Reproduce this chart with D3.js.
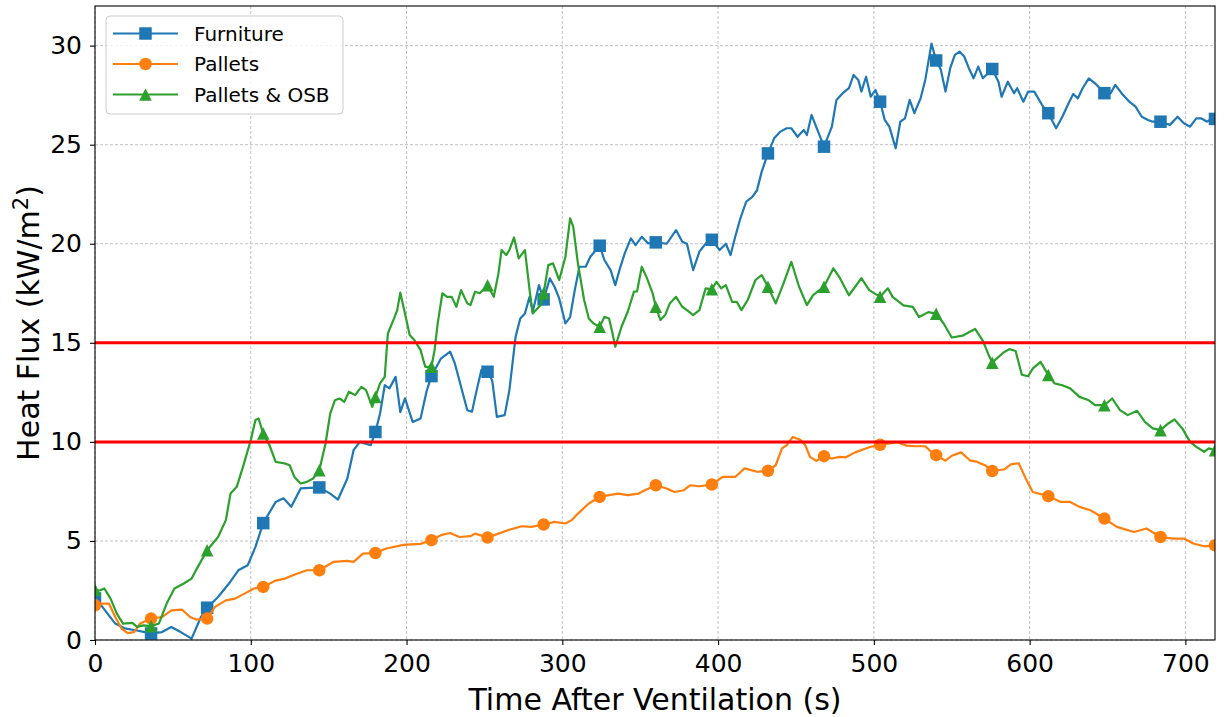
<!DOCTYPE html>
<html>
<head>
<meta charset="utf-8">
<script src="https://cdn.jsdelivr.net/npm/d3@7"></script>
<style>
  body { margin: 0; background: #fff; }
  svg { font-family: "DejaVu Sans", sans-serif; }
</style>
</head>
<body>
<svg id="chart"></svg>
<script>
// [time (s), heat flux (kW/m2)]
const furniture = [
  [0,2.1],[4,1.75],[13,0.83],[19,0.59],[26,0.49],[32,0.4],[36,0.33],[43,0.4],[49,0.66],[55,0.4],
  [62,0.07],[68,1.16],[72,1.63],[79,2.17],[86,2.85],[92,3.52],[98,3.77],[103,4.7],[108,5.9],[116,6.97],
  [121,7.15],[126,6.72],[132,7.65],[144,7.7],[151,7.39],[156,7.09],[162,8.15],[166,9.58],[170,10.0],[177,9.83],
  [180,10.5],[183,11.43],[186,12.86],[189,12.7],[193,13.28],[196,11.5],[199,12.2],[204,11.0],[209,11.18],[213,12.6],
  [216,13.32],[222,14.2],[228,14.55],[231,13.96],[235,12.78],[239,11.6],[242,11.52],[245,12.6],[248,13.62],[252,13.54],
  [255,13.1],[258,11.26],[263,11.35],[266,12.6],[270,15.3],[273,16.23],[276,16.48],[279,17.32],[281,16.57],[285,17.91],
  [288,17.19],[292,18.25],[295,17.83],[298,17.24],[302,15.98],[305,16.3],[308,17.66],[311,18.84],[315,18.84],[318,19.34],
  [324,19.9],[327,19.18],[331,18.67],[334,17.91],[337,18.76],[340,19.5],[344,20.27],[347,19.93],[351,20.35],[355,20.02],
  [360,20.07],[367,20.0],[373,20.69],[377,20.1],[380,20.0],[384,18.67],[388,19.6],[392,20.0],[396,20.2],[401,19.68],
  [405,20.0],[408,19.43],[411,20.35],[414,21.2],[418,22.12],[422,22.37],[425,22.7],[428,23.64],[432,24.56],[436,25.32],
  [440,25.66],[444,25.83],[447,25.83],[451,25.4],[455,25.74],[457,25.49],[460,26.5],[463,25.9],[468,24.9],[473,25.9],
  [476,27.26],[480,27.6],[484,27.85],[487,28.52],[490,28.27],[492,27.68],[495,28.43],[498,27.42],[501,27.76],[504,27.17],
  [507,26.25],[510,25.9],[514,24.82],[517,26.16],[520,26.33],[523,27.26],[526,26.59],[530,27.34],[533,28.27],[537,30.1],
  [540,29.25],[543,28.78],[546,27.68],[549,28.86],[552,29.53],[555,29.7],[558,29.45],[561,28.86],[564,28.35],[567,28.94],
  [570,28.35],[576,28.82],[580,28.18],[582,27.42],[586,28.18],[590,27.6],[592,27.85],[596,27.17],[599,27.68],[603,27.68],
  [608,27.0],[612,26.59],[617,25.83],[621,26.41],[625,27.09],[628,27.56],[631,27.34],[634,27.85],[638,28.35],[642,28.1],
  [648,27.6],[652,27.6],[655,28.02],[659,27.6],[664,27.17],[668,26.92],[672,26.41],[676,26.25],[679,26.16],[684,26.16],
  [690,26.0],[695,26.41],[699,26.08],[703,25.91],[707,26.33],[710,26.33],[714,26.16],[717,26.33],[719,26.3]
];

const pallets = [
  [0,1.75],[4,1.84],[9,1.84],[13,1.16],[17,0.58],[21,0.35],[25,0.4],[29,0.83],[36,1.08],[43,1.16],
  [49,1.5],[56,1.53],[61,1.16],[65,1.03],[72,1.08],[77,1.67],[84,2.0],[90,2.09],[96,2.34],[102,2.6],
  [108,2.68],[116,3.0],[122,3.1],[127,3.27],[136,3.52],[144,3.52],[153,3.94],[162,3.99],[166,3.94],[172,4.36],
  [180,4.39],[187,4.62],[198,4.8],[209,4.85],[216,5.04],[222,5.29],[228,5.4],[234,5.2],[241,5.24],[244,5.37],
  [252,5.17],[259,5.37],[265,5.54],[274,5.74],[280,5.71],[288,5.83],[295,5.96],[302,5.88],[306,6.05],[310,6.38],
  [317,6.89],[324,7.22],[330,7.31],[336,7.39],[342,7.31],[349,7.39],[353,7.56],[360,7.81],[367,7.65],[372,7.47],
  [378,7.56],[382,7.81],[388,7.76],[396,7.85],[403,8.23],[411,8.23],[417,8.66],[425,8.49],[432,8.54],[437,8.82],
  [441,9.67],[444,9.83],[448,10.25],[453,10.09],[456,9.83],[459,9.24],[463,9.04],[468,9.28],[473,9.16],[478,9.24],
  [482,9.22],[488,9.47],[497,9.73],[504,9.85],[515,9.98],[521,9.81],[527,9.78],[533,9.78],[536,9.56],[540,9.33],
  [546,9.05],[550,9.3],[556,9.47],[562,9.05],[566,9.0],[572,8.79],[576,8.53],[584,8.62],[588,8.87],[593,8.92],
  [598,8.07],[602,7.47],[612,7.26],[620,6.97],[626,6.97],[632,6.72],[639,6.55],[648,6.13],[656,5.71],[667,5.45],
  [675,5.63],[684,5.2],[692,5.12],[699,5.12],[705,4.87],[712,4.73],[719,4.78]
];

const palletsOsb = [
  [0,2.54],[3,2.5],[6,2.6],[10,2.09],[14,1.33],[18,0.83],[24,0.86],[27,0.66],[31,0.74],[36,0.7],
  [41,0.83],[46,1.84],[51,2.6],[57,2.85],[62,3.1],[66,3.69],[72,4.53],[79,5.2],[84,6.05],[87,7.39],
  [91,7.73],[95,8.74],[100,10.09],[103,11.1],[105,11.18],[108,10.42],[112,9.83],[116,8.99],[122,8.91],[125,8.82],
  [128,8.23],[132,7.9],[136,7.98],[140,8.15],[144,8.57],[148,9.92],[151,11.43],[154,12.1],[157,12.19],[160,12.02],
  [163,12.53],[167,12.36],[171,12.78],[174,12.61],[178,11.77],[180,12.27],[183,12.95],[186,13.28],[188,15.47],[192,16.23],
  [194,16.65],[196,17.53],[199,16.48],[202,15.39],[205,15.14],[209,14.63],[212,13.79],[216,13.79],[218,14.63],[220,15.98],
  [223,17.5],[226,17.32],[229,17.32],[232,16.82],[235,17.66],[239,16.99],[241,16.9],[244,17.58],[247,17.5],[252,17.91],
  [256,17.32],[259,18.5],[261,19.68],[264,19.43],[266,19.68],[269,20.32],[272,19.26],[276,19.68],[279,17.66],[281,16.48],
  [286,16.9],[288,17.5],[291,18.92],[294,19.01],[298,18.17],[302,19.34],[305,21.28],[307,20.86],[310,19.01],[314,17.16],
  [317,16.23],[320,15.98],[324,15.81],[327,16.31],[330,16.23],[332,15.56],[334,14.8],[338,15.81],[342,16.57],[346,17.58],
  [348,17.6],[351,18.84],[354,18.33],[358,17.5],[360,16.82],[363,16.15],[366,16.4],[369,16.99],[373,17.32],[377,16.82],
  [380,16.65],[384,16.4],[388,16.65],[392,17.75],[396,17.7],[399,18.08],[402,17.75],[405,17.91],[409,17.07],[412,17.07],
  [415,16.65],[419,17.16],[424,18.17],[428,18.42],[432,17.83],[437,16.99],[442,18.0],[447,19.09],[452,17.83],[457,16.9],
  [461,17.41],[468,17.83],[474,18.76],[478,18.3],[484,17.4],[488,17.83],[492,18.26],[497,17.66],[504,17.32],[509,17.75],
  [512,17.32],[519,16.89],[525,16.81],[529,16.3],[535,16.55],[540,16.47],[545,15.95],[550,15.27],[557,15.36],[561,15.53],
  [565,15.7],[570,15.1],[574,14.33],[576,14.0],[583,14.5],[587,14.68],[591,14.59],[595,13.39],[599,13.31],[602,13.7],
  [607,14.04],[612,13.37],[616,12.95],[621,12.86],[626,12.7],[632,12.27],[638,12.1],[642,11.85],[648,11.85],[653,12.19],
  [658,11.6],[663,11.35],[669,11.57],[674,11.01],[679,10.68],[684,10.59],[689,10.93],[693,11.13],[698,10.68],[703,10.0],
  [707,9.75],[712,9.5],[715,9.67],[719,9.58]
];

const seriesNames = ["Furniture", "Pallets", "Pallets & OSB"];
const thresholds = [10, 15];
const xTicks = [0, 100, 200, 300, 400, 500, 600, 700];
const yTicks = [0, 5, 10, 15, 20, 25, 30];
const markEvery = 36;

const width = 1225,
      height = 717,
      margin = {top: 6, right: 10, bottom: 77, left: 95},
      innerW = width - margin.left - margin.right,
      innerH = height - margin.top - margin.bottom;

const svg = d3.select("#chart")
    .attr("width", width)
    .attr("height", height);

const x = d3.scaleLinear().domain([0, 719]).range([0, innerW]);
const y = d3.scaleLinear().domain([0, 32]).range([innerH, 0]);

const colors = ["#1f77b4", "#ff7f0e", "#2ca02c"];
const shapes = ["square", "circle", "triangle"];
const series = [furniture, pallets, palletsOsb].map((data, i) => ({
    name: seriesNames[i], data: data, color: colors[i], shape: shapes[i]
}));

const g = svg.append("g")
    .attr("transform", `translate(${[margin.left, margin.top]})`);

svg.append("defs").append("clipPath")
    .attr("id", "plotClip")
  .append("rect")
    .attr("width", innerW)
    .attr("height", innerH);

// grid
g.append("g").selectAll("line")
    .data(xTicks)
    .enter().append("line")
      .attr("x1", (d) => x(d)).attr("x2", (d) => x(d))
      .attr("y1", 0).attr("y2", innerH)
      .attr("stroke", "#b0b0b0")
      .attr("stroke-width", 0.8)
      .attr("stroke-dasharray", "3,2");
g.append("g").selectAll("line")
    .data(yTicks)
    .enter().append("line")
      .attr("x1", 0).attr("x2", innerW)
      .attr("y1", (d) => y(d)).attr("y2", (d) => y(d))
      .attr("stroke", "#b0b0b0")
      .attr("stroke-width", 0.8)
      .attr("stroke-dasharray", "3,2");

const plot = g.append("g").attr("clip-path", "url(#plotClip)");

const line = d3.line()
    .x((d) => x(d[0]))
    .y((d) => y(d[1]));

function markerPath(shape, s) {
    const h = s / 2;
    if (shape === "square") return `M${-h},${-h}h${s}v${s}h${-s}z`;
    if (shape === "circle") return `M${h},0A${h},${h} 0 1 1 ${-h},0A${h},${h} 0 1 1 ${h},0z`;
    return `M0,${-h}L${h},${h}L${-h},${h}z`;
}

series.forEach((s) => {
    plot.append("path")
        .datum(s.data)
        .attr("d", line)
        .attr("fill", "none")
        .attr("stroke", s.color)
        .attr("stroke-width", 2.2)
        .attr("stroke-linejoin", "round");

    const last = s.data[s.data.length - 1];
    plot.append("g").selectAll("path")
        .data(s.data.filter((d) => d[0] % markEvery === 0 || d === last))
        .enter().append("path")
          .attr("transform", (d) => `translate(${[x(d[0]), y(d[1])]})`)
          .attr("d", markerPath(s.shape, 12.5))
          .attr("fill", s.color);
});

// threshold lines
plot.selectAll(".threshold")
    .data(thresholds)
    .enter().append("line")
      .attr("class", "threshold")
      .attr("x1", 0).attr("x2", innerW)
      .attr("y1", (d) => y(d)).attr("y2", (d) => y(d))
      .attr("stroke", "#ff0000")
      .attr("stroke-width", 3);

// axes
const xAxis = g.append("g")
    .attr("transform", `translate(0,${innerH})`)
    .call(d3.axisBottom(x).tickValues(xTicks).tickSize(5).tickPadding(9));
const yAxis = g.append("g")
    .call(d3.axisLeft(y).tickValues(yTicks).tickSize(5).tickPadding(8));
[xAxis, yAxis].forEach((a) => {
    a.select(".domain").remove();
    a.selectAll("text").attr("font-size", 25).attr("fill", "#000").attr("font-family", "DejaVu Sans");
    a.selectAll("line").attr("stroke", "#000").attr("stroke-width", 1.1);
});

g.append("rect")
    .attr("width", innerW)
    .attr("height", innerH)
    .attr("fill", "none")
    .attr("stroke", "#000")
    .attr("stroke-width", 1.1);

svg.append("text")
    .attr("x", margin.left + innerW / 2)
    .attr("y", 710)
    .attr("text-anchor", "middle")
    .attr("font-size", 30)
    .text("Time After Ventilation (s)");

const yLabel = svg.append("text")
    .attr("transform", `translate(39,${margin.top + innerH / 2}) rotate(-90)`)
    .attr("text-anchor", "middle")
    .attr("font-size", 30);
yLabel.append("tspan").text("Heat Flux (kW/m");
yLabel.append("tspan").attr("dy", -11).attr("font-size", 21).text("2");
yLabel.append("tspan").attr("dy", 11).text(")");

// legend
const legend = svg.append("g").attr("transform", "translate(106,16)");
legend.append("rect")
    .attr("width", 237)
    .attr("height", 98)
    .attr("rx", 4)
    .attr("fill", "#fff")
    .attr("fill-opacity", 0.8)
    .attr("stroke", "#cccccc")
    .attr("stroke-width", 1);
const item = legend.selectAll(".item")
    .data(series)
    .enter().append("g")
      .attr("class", "item")
      .attr("transform", (d, i) => `translate(0,${17.5 + i * 30.5})`);
item.append("line")
    .attr("x1", 7).attr("x2", 72)
    .attr("stroke", (d) => d.color)
    .attr("stroke-width", 2.2);
item.append("path")
    .attr("transform", "translate(39.5,0)")
    .attr("d", (d) => markerPath(d.shape, 12.5))
    .attr("fill", (d) => d.color);
item.append("text")
    .attr("x", 88)
    .attr("dy", "0.36em")
    .attr("font-size", 20)
    .text((d) => d.name);
</script>
</body>
</html>
